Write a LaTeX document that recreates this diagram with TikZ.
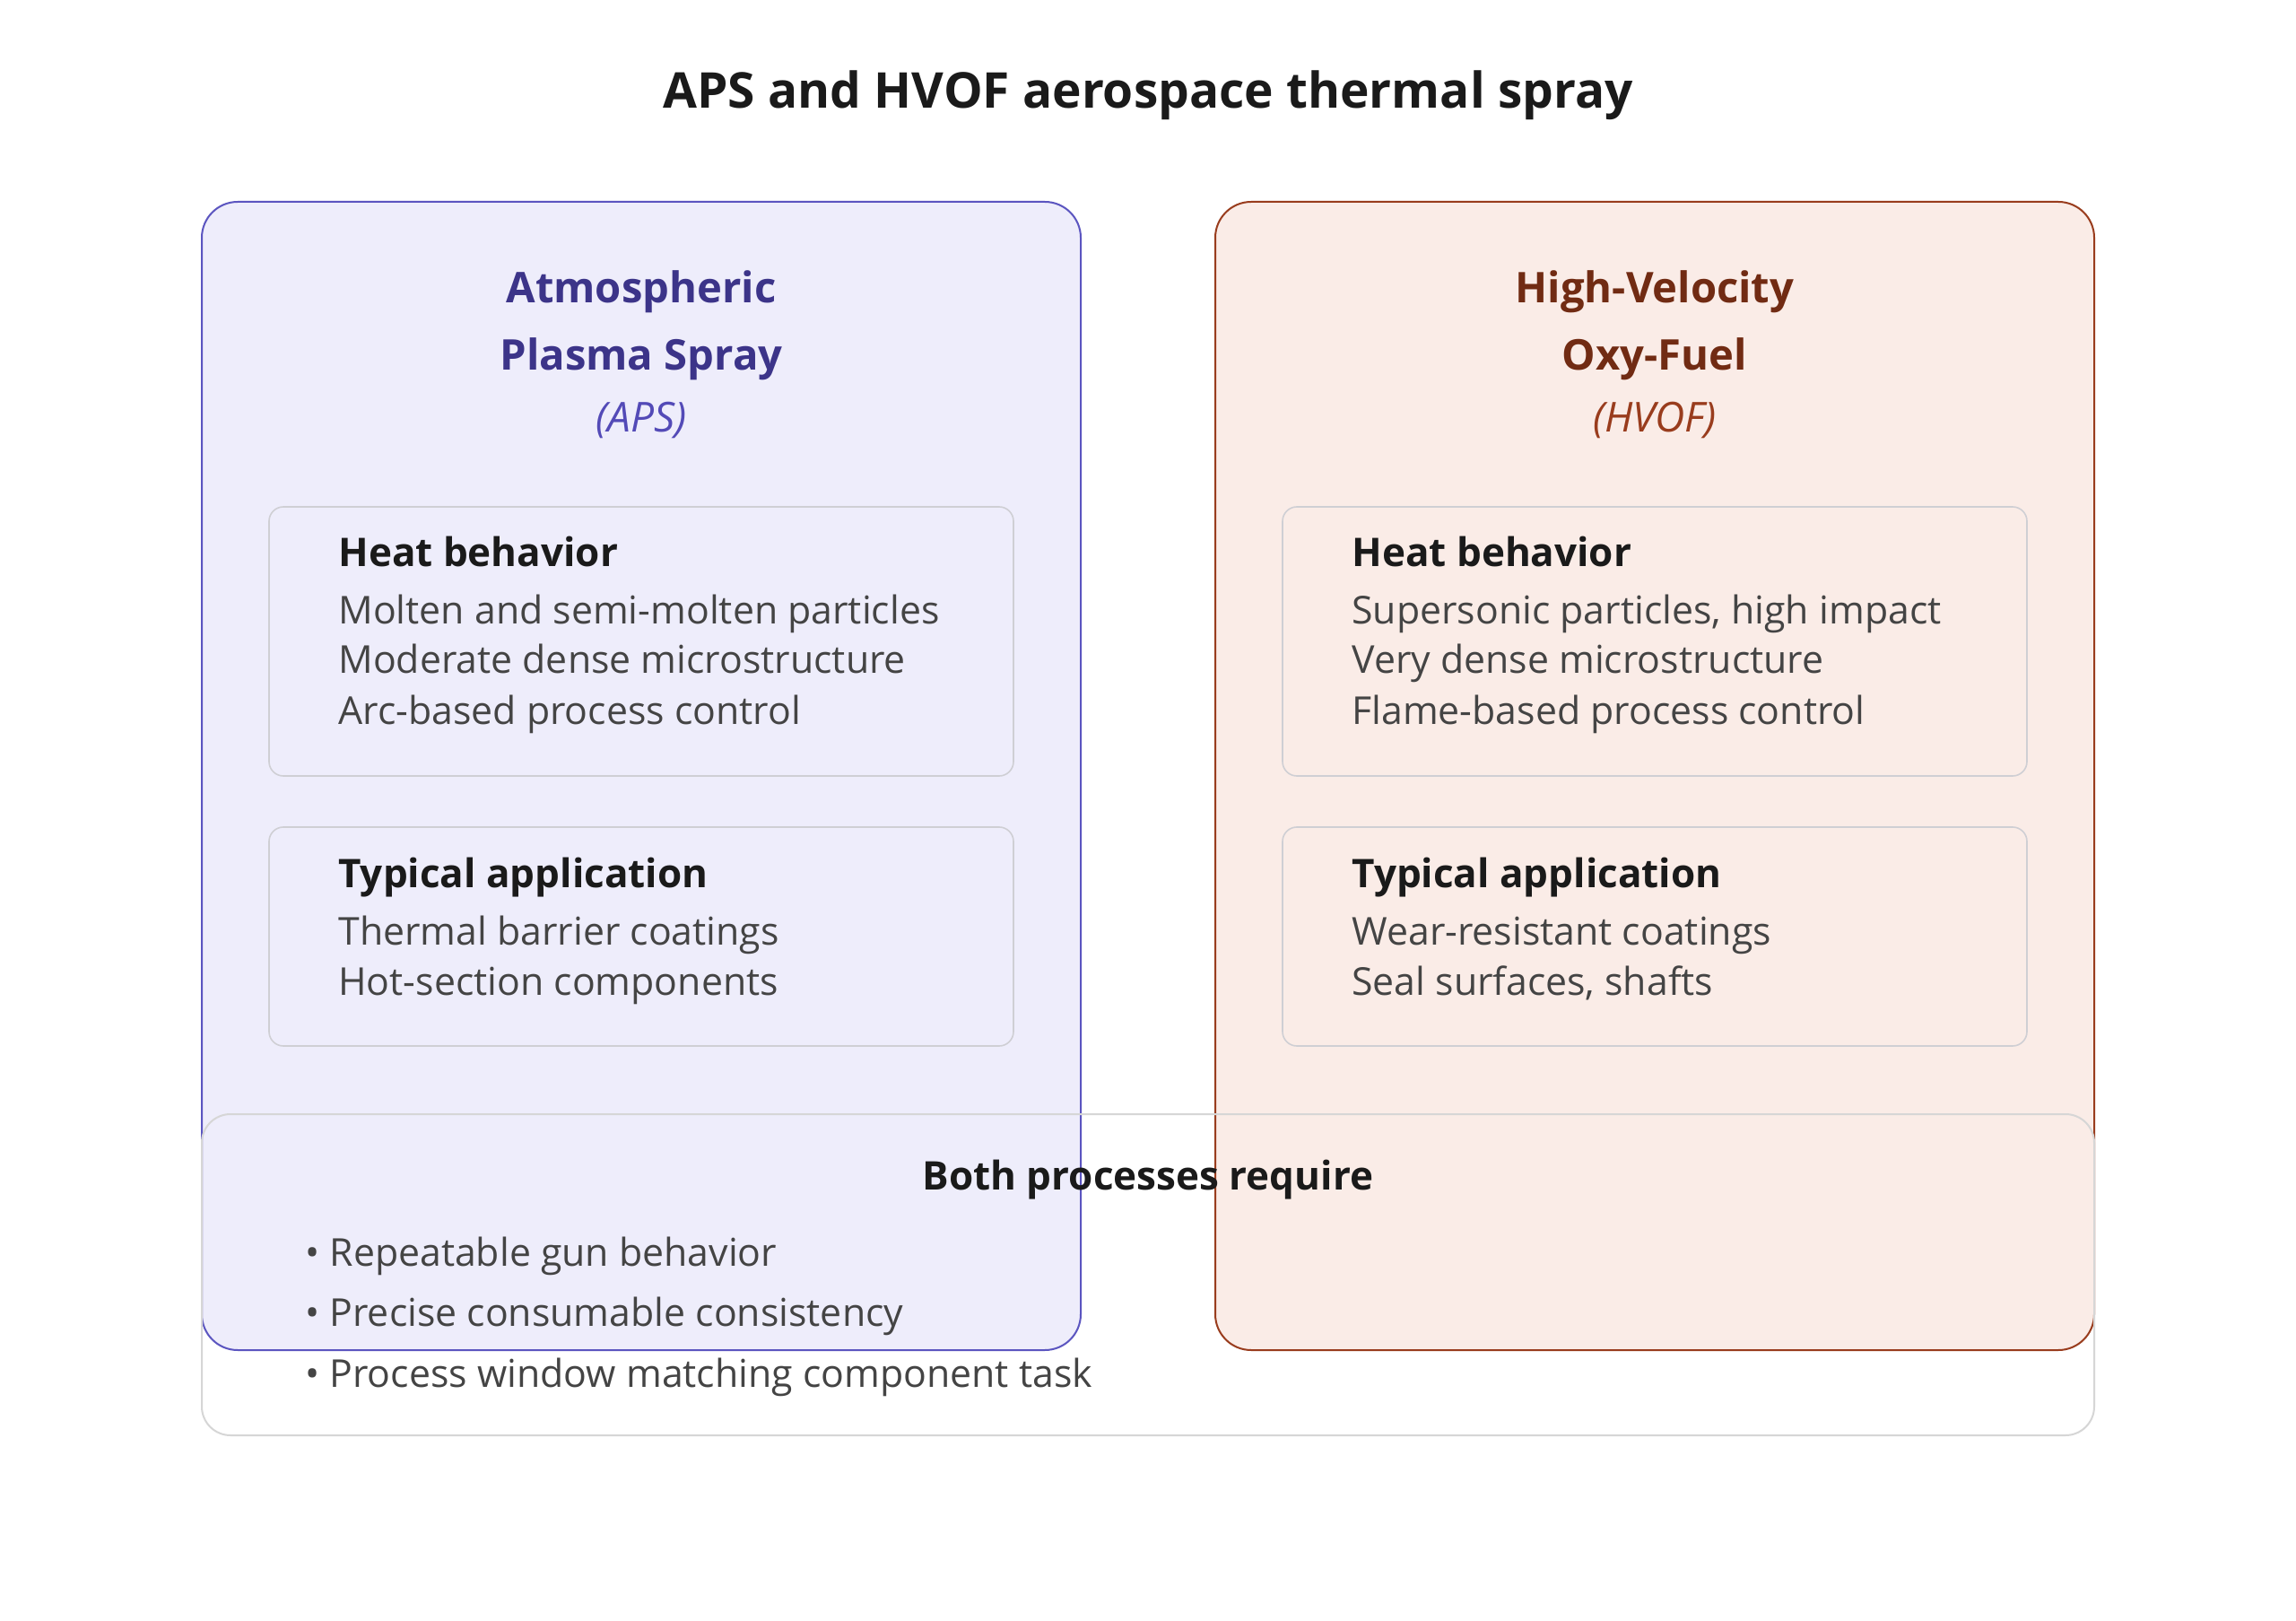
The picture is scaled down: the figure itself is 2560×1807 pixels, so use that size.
\documentclass[tikz,border=0pt]{standalone}
\usepackage{fontspec}
\setmainfont{Open Sans}
\definecolor{purFill}{HTML}{EEEDFB}
\definecolor{purLine}{HTML}{5B55C0}
\definecolor{purDark}{HTML}{3C3489}
\definecolor{purMid}{HTML}{534AB7}
\definecolor{corFill}{HTML}{FAECE7}
\definecolor{corLine}{HTML}{993C1D}
\definecolor{corDark}{HTML}{712B13}
\definecolor{corMid}{HTML}{993C1D}
\definecolor{boxLine}{HTML}{CFCFD4}
\definecolor{headTxt}{HTML}{1A1A1A}
\definecolor{bodyTxt}{HTML}{444444}
\definecolor{bothLine}{HTML}{D6D6D6}
\tikzset{
  panel/.style={draw, line width=1pt, rounded corners=20pt, inner sep=0pt},
  innerbox/.style={draw=boxLine, line width=0.8pt, rounded corners=8pt, inner sep=0pt, minimum width=415pt},
  bothbox/.style={draw=bothLine, line width=1pt, rounded corners=16pt, inner sep=0pt},
  maintitle/.style={font=\fontsize{27.5pt}{33pt}\selectfont\bfseries, text=headTxt, anchor=base, inner sep=0pt},
  ptitle/.style={font=\fontsize{23.6pt}{28pt}\selectfont\bfseries, anchor=base, inner sep=0pt},
  psub/.style={font=\fontsize{23pt}{27pt}\selectfont\itshape, anchor=base, inner sep=0pt},
  heading/.style={font=\fontsize{22pt}{26pt}\selectfont\bfseries, text=headTxt, anchor=base west, inner sep=0pt},
  bodyline/.style={font=\fontsize{21.4pt}{25pt}\selectfont, text=bodyTxt, anchor=base west, inner sep=0pt},
}
\begin{document}
\begin{tikzpicture}[x=0.5pt, y=-0.5pt]
\useasboundingbox[fill=white] (0,0) rectangle (2560,1807);
% title
\node[maintitle] (title) at (1280,121) {APS and HVOF aerospace thermal spray};
% panels
\node[panel, draw=purLine, fill=purFill, minimum width=490pt, minimum height=640pt] (aps) at (715,865) {};
\node[panel, draw=corLine, fill=corFill, minimum width=490pt, minimum height=640pt] (hvof) at (1845,865) {};
% bottom box
\node[bothbox, minimum width=1055pt, minimum height=179pt] (both) at (1280,1421) {};
% APS titles
\node[ptitle, text=purDark] (apsT1) at (715,338) {Atmospheric};
\node[ptitle, text=purDark] (apsT2) at (715,413) {Plasma Spray};
\node[psub, text=purMid] (apsT3) at (715,482) {(APS)};
% HVOF titles
\node[ptitle, text=corDark] (hvT1) at (1845,338) {High-Velocity};
\node[ptitle, text=corDark] (hvT2) at (1845,413) {Oxy-Fuel};
\node[psub, text=corMid] (hvT3) at (1845,482) {(HVOF)};
% inner boxes
\node[innerbox, minimum height=150pt] (apsHeat) at (715,715) {};
\node[innerbox, minimum height=122pt] (apsApp) at (715,1044) {};
\node[innerbox, minimum height=150pt] (hvHeat) at (1845,715) {};
\node[innerbox, minimum height=122pt] (hvApp) at (1845,1044) {};
% APS heat text
\node[heading] (ah0) at (377,632) {Heat behavior};
\node[bodyline] (ah1) at (377,696) {Molten and semi-molten particles};
\node[bodyline] (ah2) at (377,751) {Moderate dense microstructure};
\node[bodyline] (ah3) at (377,808) {Arc-based process control};
\node[heading] (aa0) at (377,989) {Typical application};
\node[bodyline] (aa1) at (377,1053) {Thermal barrier coatings};
\node[bodyline] (aa2) at (377,1109) {Hot-section components};
% HVOF text
\node[heading] (hh0) at (1507,632) {Heat behavior};
\node[bodyline] (hh1) at (1507,696) {Supersonic particles, high impact};
\node[bodyline] (hh2) at (1507,751) {Very dense microstructure};
\node[bodyline] (hh3) at (1507,808) {Flame-based process control};
\node[heading] (ha0) at (1507,989) {Typical application};
\node[bodyline] (ha1) at (1507,1053) {Wear-resistant coatings};
\node[bodyline] (ha2) at (1507,1109) {Seal surfaces, shafts};
% both
\node[heading, anchor=base] (bt) at (1280,1326) {Both processes require};
\node[bodyline] (b1) at (340,1411) {• Repeatable gun behavior};
\node[bodyline] (b2) at (340,1478) {• Precise consumable consistency};
\node[bodyline] (b3) at (340,1546) {• Process window matching component task};
\end{tikzpicture}
\end{document}
